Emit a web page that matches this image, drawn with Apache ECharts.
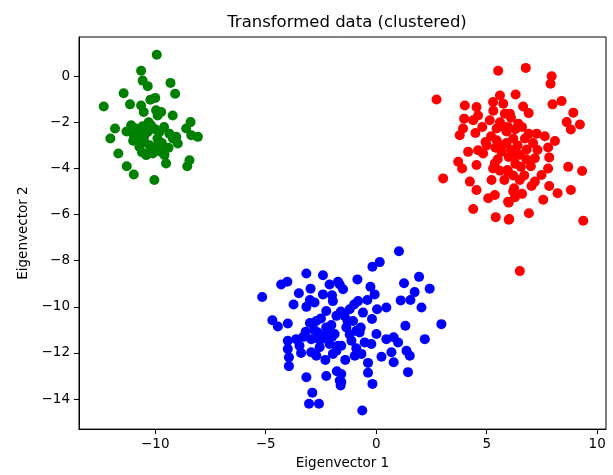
<!DOCTYPE html>
<html>
<head>
<meta charset="utf-8">
<script src="https://cdn.jsdelivr.net/npm/echarts@6/dist/echarts.min.js"></script>
<style>
html,body{margin:0;padding:0;background:#fff;}
#chart{width:613px;height:475px;}
</style>
</head>
<body>
<div id="chart"></div>
<script>
// Cluster 1 (green)
const greenX = [-9.93,-10.64,-10.57,-10.34,-9.31,-9.10,-11.43,-12.33,-11.14,-10.22,-10.0,-10.64,-10.52,-9.96,-9.73,-9.21,-9.89,-8.40,-11.82,-12.03,-11.09,-10.87,-10.57,-10.19,-10.97,-10.64,-10.34,-9.81,-9.36,-9.05,-8.60,-8.37,-8.07,-8.98,-10.79,-10.49,-10.72,-10.26,-9.96,-9.73,-10.41,-10.11,-9.58,-11.67,-9.51,-8.45,-8.55,-11.29,-10.97,-10.04,-10.3,-10.0,-9.6,-10.5,-9.9,-10.2,-9.7,-11.0,-10.6,-9.4,-9.2,-11.3];
const greenY = [0.93,0.24,-0.19,-0.43,-0.29,-0.76,-0.74,-1.31,-1.22,-1.02,-0.94,-1.27,-1.55,-1.48,-1.55,-1.70,-1.70,-1.99,-2.27,-2.70,-2.13,-2.27,-2.17,-2.13,-2.56,-2.49,-2.42,-2.42,-2.49,-2.63,-2.27,-2.56,-2.63,-2.92,-2.78,-2.85,-3.06,-2.99,-3.06,-3.28,-3.42,-3.35,-3.42,-3.35,-3.78,-3.64,-3.90,-3.90,-4.26,-4.50,-2.0,-2.3,-2.2,-2.6,-2.7,-3.2,-2.9,-2.8,-3.3,-3.1,-2.7,-2.4];
// Cluster 2 (red)
const redX = [5.52,2.73,4.01,4.54,5.29,5.60,5.75,4.61,3.98,4.39,5.14,3.93,3.78,4.49,5.45,5.45,4.95,4.16,4.61,4.84,5.67,3.71,3.89,4.54,5.37,5.29,5.94,3.03,4.24,5.22,4.54,5.07,5.37,5.97,4.39,5.41,6.02,5.82,
  6.77,7.94,7.89,6.31,6.65,7.98,8.39,8.92,8.62,8.81,9.22,6.05,6.43,5.97,7.26,7.63,8.09,7.78,6.73,6.81,6.35,7.18,7.83,8.69,9.32,5.97,6.55,7.78,7.48,7.18,6.50,7.03,7.83,6.24,8.81,8.21,7.56,6.28,6.00,6.91,6.00,9.37,6.50,
  5.6,5.9,6.2,5.7,6.0,6.3,5.5,6.6,6.9,5.2,6.1,6.4,5.8,6.7,7.0,5.0,4.8,6.2,6.6,7.3,6.9,5.3,
  5.8,6.1,6.5,5.4,5.9,6.3,6.8,5.6,6.2,7.1];
const redY = [0.24,-1.01,-1.27,-1.34,-1.12,-0.84,-1.19,-1.70,-1.84,-1.91,-1.91,-2.27,-2.56,-2.46,-2.27,-2.78,-2.85,-3.28,-3.21,-3.35,-3.28,-3.71,-4.00,-3.85,-3.78,-4.00,-4.07,-4.43,-4.57,-4.50,-4.93,-5.29,-5.15,-5.44,-5.76,-6.11,-6.19,-1.63,
  0.36,0.0,-0.33,-0.79,-1.31,-1.22,-1.08,-1.58,-1.99,-2.31,-2.09,-1.63,-2.06,-2.20,-2.49,-2.60,-2.81,-3.09,-2.70,-3.18,-3.42,-3.56,-3.52,-3.93,-4.11,-4.14,-3.93,-4.00,-4.28,-4.57,-4.50,-4.76,-4.76,-4.86,-4.93,-5.07,-5.36,-5.25,-5.48,-5.94,-6.22,-6.27,-8.45,
  -2.0,-2.4,-2.7,-3.0,-3.5,-3.8,-3.6,-2.2,-2.5,-2.6,-1.8,-3.0,-4.5,-4.3,-3.9,-3.0,-2.2,-5.0,-5.1,-3.2,-1.6,-1.5,
  -2.2,-3.2,-3.4,-3.1,-2.9,-2.3,-3.6,-4.1,-4.3,-2.9];
// Cluster 3 (blue)
const blueX = [-5.16,-4.30,-4.02,-3.16,-2.41,-3.50,-2.97,-2.11,-1.73,-3.74,-3.16,-2.79,-2.41,-1.96,-1.50,-4.70,-4.45,-4.0,-3.19,-2.71,-2.26,-1.80,-4.0,-3.62,-3.47,-4.0,-3.95,-3.95,-2.94,-2.64,-2.26,-1.88,-2.94,-2.56,-2.11,-1.73,-1.96,-2.71,-3.16,-2.26,-1.78,-1.65,-1.61,-2.89,-3.04,-2.59,-2.48,-2.33,-2.03,
  1.03,0.16,-0.17,-0.85,-0.26,-0.07,1.26,1.94,2.42,1.74,1.55,1.11,2.05,0.46,0.04,-0.82,-1.20,-0.60,-0.19,-1.05,2.95,1.32,2.20,-0.75,0.01,0.46,0.79,0.99,-1.12,-0.52,-0.22,-1.58,1.37,1.52,0.69,0.24,-0.97,-0.67,-0.37,0.79,1.44,-0.37,-0.17,-1.58,-1.58,-0.63,-0.90,-1.35,-1.43,-1.65,
  -2.5,-2.8,-3.0,-2.2,-2.6,-3.3,-2.0,-1.3,-1.0,-1.6,-0.7,-1.2,-3.0,-2.0,-0.4,-1.8,-2.3,-3.4,-1.4,-0.9];
const blueY = [-9.57,-9.03,-8.91,-8.55,-8.63,-9.41,-9.21,-9.03,-8.91,-9.90,-10.0,-9.81,-9.46,-9.75,-9.24,-10.58,-10.85,-10.72,-11.08,-10.61,-10.18,-10.39,-11.47,-11.40,-11.69,-11.83,-12.19,-12.57,-11.40,-11.11,-10.89,-11.18,-11.97,-11.75,-11.61,-11.69,-12.04,-12.12,-13.05,-13.0,-12.79,-13.19,-13.41,-13.72,-14.2,-14.2,-11.40,-11.25,-10.79,
  -7.59,-8.06,-8.26,-8.81,-9.13,-9.46,-8.98,-8.70,-9.21,-9.36,-9.70,-9.72,-10.03,-10.03,-10.10,-9.75,-10.10,-10.25,-10.53,-10.61,-10.75,-10.82,-11.40,-11.11,-11.18,-11.40,-11.32,-11.54,-11.47,-11.54,-11.61,-11.69,-11.90,-12.12,-11.97,-12.16,-12.12,-12.04,-12.43,-12.40,-12.83,-12.86,-13.34,-12.91,-13.26,-14.49,-11.04,-10.89,-10.39,-9.03,
  -10.5,-11.0,-10.7,-11.0,-11.4,-11.3,-11.3,-10.6,-9.9,-10.2,-10.9,-11.2,-9.7,-9.5,-9.7,-11.9,-12.3,-12.0,-12.3,-11.8];
const xTicks = [-10,-5,0,5,10];
const yTicks = [0,-2,-4,-6,-8,-10,-12,-14];

function pairs(xs, ys){ return xs.map((x,i)=>[x, ys[i]]); }
function fmt(v){ return v < 0 ? '\u2212' + Math.abs(v) : String(v); }

const font = 'DejaVu Sans';
const chart = echarts.init(document.getElementById('chart'), null, {renderer:'canvas'});
const axisCommon = {
  type:'value',
  nameLocation:'middle',
  nameTextStyle:{fontFamily:font, fontSize:13.5, color:'#000'},
  axisLine:{show:true, onZero:false, lineStyle:{color:'#000', width:1}},
  axisTick:{show:true, inside:false, length:5, lineStyle:{color:'#000', width:1}},
  splitLine:{show:false},
  axisLabel:{fontFamily:font, fontSize:13.5, color:'#000', formatter:fmt}
};
chart.setOption({
  animation:false,
  backgroundColor:'#fff',
  title:{text:'Transformed data (clustered)', left:342, top:9, textAlign:'center',
    textStyle:{fontFamily:font, fontSize:16.5, fontWeight:'normal', color:'#000'}},
  grid:{left:79, right:7, top:37, bottom:42, show:true, borderColor:'#000', borderWidth:1, backgroundColor:'transparent'},
  xAxis:Object.assign({}, axisCommon, {
    min:-13.45, max:10.4, name:'Eigenvector 1', nameGap:26,
    axisTick:Object.assign({}, axisCommon.axisTick, {customValues:xTicks}),
    axisLabel:Object.assign({}, axisCommon.axisLabel, {customValues:xTicks, margin:8})
  }),
  yAxis:Object.assign({}, axisCommon, {
    min:-15.3, max:1.7, name:'Eigenvector 2', nameGap:48,
    axisTick:Object.assign({}, axisCommon.axisTick, {customValues:yTicks}),
    axisLabel:Object.assign({}, axisCommon.axisLabel, {customValues:yTicks, margin:9})
  }),
  series:[
    {type:'scatter', data:pairs(greenX, greenY), symbolSize:10, itemStyle:{color:'#008000', opacity:1}},
    {type:'scatter', data:pairs(redX, redY), symbolSize:10, itemStyle:{color:'#ff0000', opacity:1}},
    {type:'scatter', data:pairs(blueX, blueY), symbolSize:10, itemStyle:{color:'#0000ff', opacity:1}}
  ]
});
</script>
</body>
</html>
